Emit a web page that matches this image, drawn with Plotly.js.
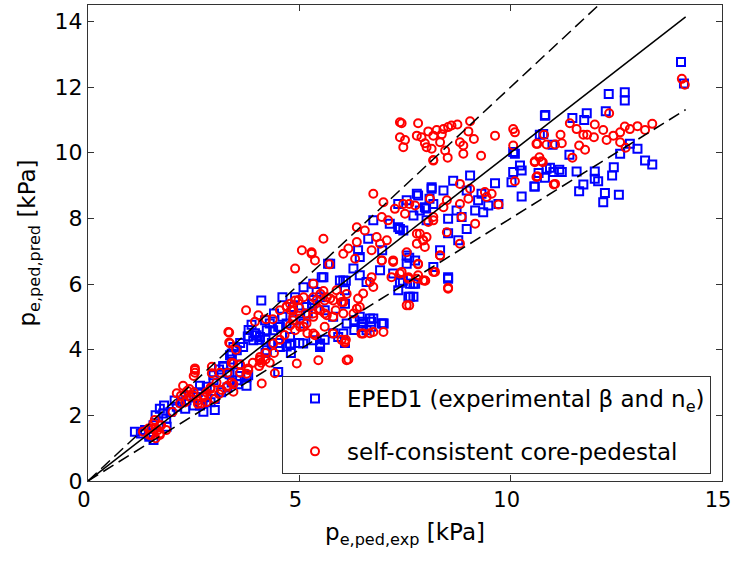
<!DOCTYPE html>
<html>
<head>
<meta charset="utf-8">
<script src="https://cdn.plot.ly/plotly-3.0.1.min.js"></script>
<style>html,body{margin:0;padding:0;background:#fff;}#chart{width:733px;height:561px;}</style>
</head>
<body>
<div id="chart"></div>
<script>
// EPED1 (experimental beta and n_e) – blue squares
const epedX = [1.11,1.25,1.35,1.45,1.55,1.60,1.70,1.80,1.85,1.95,2.05,2.20,2.30,2.50,2.60,2.75,2.90,3.00,3.00,3.15,3.30,3.40,3.35,3.60,3.55,3.79,3.40,3.44,3.60,3.78,3.80,3.87,3.95,4.05,2.97,3.10,3.40,3.55,3.75,3.80,3.99,4.23,4.30,4.50,4.78,4.50,5.00,5.49,4.80,4.50,4.20,4.60,4.85,4.40,5.10,5.09,4.78,5.49,5.92,6.08,6.43,6.30,6.67,6.47,6.70,6.99,6.75,6.95,6.59,6.50,6.04,6.08,6.08,6.59,7.34,7.74,7.62,7.58,7.70,7.45,5.96,5.53,5.33,5.41,5.57,5.73,6.10,5.68,6.28,6.43,6.91,7.22,7.54,7.60,6.96,6.39,6.63,6.43,6.04,6.75,7.14,7.34,7.34,7.78,8.13,8.08,8.00,7.54,7.70,7.97,8.17,7.85,8.01,7.46,7.38,7.54,7.74,7.62,7.70,7.38,8.17,8.52,8.52,8.33,8.76,8.52,8.96,8.52,8.84,8.72,9.16,9.35,9.47,9.71,9.23,9.31,8.96,8.41,8.13,7.81,8.64,9.04,9.63,10.02,10.06,10.26,10.22,10.10,10.57,10.26,10.85,11.01,10.77,10.81,4.90,5.10,5.30,5.60,5.80,5.20,4.60,4.19,4.10,4.35,4.70,2.40,2.65,3.20,14.03,14.10,12.32,12.70,12.70,12.25,10.82,11.46,11.80,11.74,10.69,10.99,11.39,12.82,13.00,12.59,13.18,13.35,10.93,11.15,11.21,11.56,11.99,12.44,12.40,10.66,10.81,10.56,11.72,11.99,12.07,11.62,12.23,12.19,12.56,10.06,
  1.78,2.10,2.33,2.57,2.81,2.97,3.20,3.36,3.52,3.67,3.91,4.07,4.20,4.38,4.54,4.70,4.86,5.02,5.17,5.33,5.50,4.23,4.54,5.33,5.49,5.60,5.80,6.12,6.50,6.70,6.99,6.30,3.30,3.52,3.75,2.65,2.73,1.86,1.55,1.45];
const epedY = [1.50,1.45,1.55,1.35,1.70,2.00,2.20,2.30,1.90,2.10,2.45,2.40,2.20,2.30,2.70,2.55,2.40,2.16,2.50,2.70,2.85,3.00,3.25,3.20,2.95,3.22,3.88,4.08,4.20,4.40,4.60,4.76,4.50,4.30,3.22,3.40,3.70,3.55,3.17,4.40,4.44,4.59,4.80,4.70,4.39,4.20,4.20,4.14,3.90,3.32,3.90,5.00,5.30,5.10,4.80,4.19,4.19,4.19,4.39,4.20,5.00,4.90,4.95,4.69,4.70,4.80,4.95,4.80,4.59,4.80,4.49,5.40,5.81,6.06,5.81,6.01,5.61,5.61,6.01,6.10,6.11,6.21,6.01,5.76,6.21,6.62,6.10,6.62,6.47,6.27,6.42,6.32,6.62,6.80,7.03,7.03,7.38,6.82,6.11,7.94,7.84,7.73,8.44,8.75,8.95,8.60,8.30,8.55,8.09,8.34,8.44,8.24,7.94,7.63,7.68,6.87,6.72,6.01,5.61,6.04,6.52,6.16,6.21,7.03,7.33,7.55,7.68,7.99,8.04,8.24,8.24,8.19,8.39,8.44,8.55,8.75,8.85,8.85,8.90,8.70,9.15,9.31,9.07,9.10,9.41,9.46,9.61,9.97,8.97,8.67,9.51,9.41,10.57,11.13,5.60,5.90,5.40,5.20,5.00,5.10,5.60,4.90,5.50,4.20,4.10,2.60,2.90,3.50,12.76,12.11,11.79,11.84,11.59,11.26,11.15,11.06,11.20,11.00,10.55,10.24,9.94,10.27,10.12,9.97,9.76,9.64,9.54,9.48,9.41,9.43,9.43,9.56,9.31,9.38,9.24,8.97,9.03,9.21,9.13,8.83,8.77,8.49,8.72,10.02,
  2.06,2.26,2.46,2.56,2.87,3.07,3.48,3.83,3.98,4.08,4.29,4.39,4.30,4.59,4.69,4.80,4.90,5.10,5.30,5.51,5.60,3.98,4.08,4.29,4.08,4.30,4.50,4.80,4.85,4.85,4.80,4.60,3.30,3.07,2.90,2.30,2.11,1.65,1.25,1.40];

// self-consistent core-pedestal – red circles
const scX = [1.30,1.43,1.50,1.58,1.60,1.70,1.70,1.73,1.55,1.45,1.65,2.10,2.20,2.25,2.30,2.30,2.40,2.50,2.53,2.53,2.60,2.69,2.73,2.80,2.80,2.90,2.93,2.93,3.00,3.16,3.30,3.30,3.40,3.44,3.60,3.32,3.36,3.34,3.34,3.50,3.79,4.11,4.10,4.06,4.20,3.44,3.40,3.60,3.79,4.05,4.30,4.07,4.40,4.42,4.94,2.53,2.50,3.74,4.03,3.95,4.21,4.37,4.54,4.70,4.80,4.98,5.10,5.41,4.86,5.02,5.10,5.60,5.80,5.86,6.04,6.12,5.37,5.19,5.80,5.45,6.00,6.12,6.16,6.08,6.10,6.47,6.67,6.99,5.80,6.36,6.51,6.67,7.18,7.38,7.81,7.98,8.21,7.81,8.33,6.95,7.22,5.60,5.60,5.57,5.06,5.29,5.37,4.90,5.33,5.57,5.29,5.71,6.04,6.16,6.32,6.36,6.55,6.71,6.36,6.75,6.99,6.95,7.10,7.26,7.46,7.60,6.83,7.07,6.91,7.22,6.95,6.71,6.75,6.39,6.43,6.28,7.58,7.78,7.93,7.93,7.78,8.01,8.17,8.17,5.88,5.73,6.00,5.49,5.33,5.65,5.17,5.33,6.08,6.51,6.75,6.04,4.86,4.70,5.00,4.78,4.90,7.54,7.60,8.52,8.80,9.04,9.39,9.55,9.71,9.43,9.00,8.80,8.49,8.41,8.09,8.84,9.16,8.17,8.05,7.74,7.50,7.85,7.93,7.97,7.78,7.54,8.49,8.80,8.33,7.81,8.17,7.97,8.52,7.58,7.42,7.38,7.42,7.81,7.50,7.46,7.78,7.89,7.97,8.01,8.13,8.05,8.17,8.25,8.37,8.33,8.45,8.41,8.52,8.60,8.74,9.04,9.00,9.13,8.80,8.88,8.88,8.51,8.17,9.30,9.63,10.06,10.10,10.06,10.61,10.57,10.73,10.61,10.10,11.05,7.38,14.05,14.12,12.33,11.40,11.18,10.79,10.63,10.85,11.05,11.21,11.56,11.72,11.81,11.99,11.97,12.19,12.27,12.43,12.59,12.70,12.82,13.00,13.18,13.35,12.59,12.72,11.62,11.76,11.46,10.57,10.68,10.76,10.63,11.02,
  2.18,2.41,2.50,2.60,2.90,3.04,3.12,3.28,3.44,3.75,3.90,4.07,4.20,4.38,4.54,4.65,4.85,5.02,5.15,5.33,5.45,4.78,4.90,5.33,5.50,5.65,5.80,5.97,1.70,1.50,1.60,1.85,2.00,2.35,2.75,3.10];
const scY = [1.50,1.60,1.60,1.86,1.30,1.40,1.70,1.70,1.75,1.40,1.55,2.67,2.60,2.90,2.65,2.40,2.80,2.60,3.38,3.30,2.35,2.36,2.56,2.70,2.40,2.85,3.28,3.48,2.50,2.77,2.90,3.30,3.00,2.72,3.30,4.54,4.19,4.52,4.22,4.00,3.38,2.97,3.60,3.70,3.70,3.58,3.60,3.55,3.43,3.50,3.60,3.78,3.90,3.28,3.58,3.43,3.20,5.20,5.05,4.85,4.93,4.93,5.20,5.32,5.20,5.51,5.60,5.51,5.00,4.69,4.70,5.10,5.00,5.20,5.45,5.70,4.44,4.50,4.49,3.68,4.30,3.68,3.70,4.21,4.30,4.49,4.50,4.54,4.50,5.25,5.71,6.06,6.21,6.32,6.27,6.10,6.37,6.60,6.87,6.72,6.67,5.50,4.70,7.38,7.03,6.92,6.72,6.47,6.01,5.79,6.97,6.60,6.92,7.08,6.77,7.28,7.63,7.03,7.73,8.75,8.49,8.04,7.94,8.29,8.44,8.44,7.43,7.33,7.23,6.72,6.72,6.21,5.91,5.56,5.30,5.10,6.16,6.16,6.11,7.33,7.53,7.43,7.94,9.76,5.81,5.56,5.45,5.20,5.00,5.05,4.80,4.49,4.24,4.49,4.54,5.10,5.20,5.30,5.27,4.74,4.59,5.35,5.35,5.89,9.05,8.90,8.80,8.75,8.42,8.65,8.60,8.44,8.55,8.34,8.60,8.04,7.84,8.04,7.89,8.39,8.14,7.53,7.33,7.13,7.23,6.97,7.58,7.23,6.87,6.62,6.37,6.11,5.86,6.21,6.37,10.93,10.90,10.90,10.39,10.17,10.52,10.47,10.29,10.17,10.12,10.65,10.52,10.69,10.56,10.32,10.07,10.72,10.78,10.83,10.86,10.96,10.65,10.42,10.32,10.22,9.97,9.85,9.78,9.91,10.52,10.72,10.62,10.22,10.27,9.71,9.74,9.26,9.13,9.05,10.47,12.25,12.07,11.20,10.90,10.55,10.55,10.27,10.25,10.25,10.29,10.72,10.55,10.55,10.86,10.47,10.69,10.39,10.52,10.62,10.80,10.72,10.81,10.69,10.88,10.32,10.15,10.22,10.09,9.85,9.74,9.86,9.71,9.28,9.03,
  2.36,2.56,2.70,2.45,2.80,3.00,3.30,2.87,2.95,3.27,3.60,3.68,3.90,4.19,4.30,4.45,4.90,4.95,5.10,5.10,5.25,5.40,5.50,5.60,5.70,5.60,5.50,5.61,1.45,1.40,1.60,1.55,2.10,2.75,2.60,2.65];

// reference lines: y = k * x
const lineX = [0, 14.14];
const lineFactors = [1.0, 1.2, 0.8];
const lineDash = ['solid', '12px,6px', '12px,6px'];

const legendNames = ['EPED1 (experimental β and n<sub>e</sub>)', 'self-consistent core-pedestal'];

const traces = [
  {x: epedX, y: epedY, type: 'scatter', mode: 'markers', name: legendNames[0], legendgroup: 'a',
   marker: {symbol: 'square-open', size: 8, color: '#0000ff', line: {width: 2, color: '#0000ff'}}},
  {x: scX, y: scY, type: 'scatter', mode: 'markers', name: legendNames[1], legendgroup: 'b',
   marker: {symbol: 'circle-open', size: 8, color: '#ff0000', line: {width: 2, color: '#ff0000'}}}
];
lineFactors.forEach((k, i) => {
  traces.push({x: lineX, y: lineX.map(v => v * k), type: 'scatter', mode: 'lines', showlegend: false,
    hoverinfo: 'skip', line: {color: '#000', width: 1.5, dash: lineDash[i]}});
});

const fontFam = 'DejaVu Sans, Liberation Sans, Arial, sans-serif';
const layout = {
  width: 733, height: 561,
  margin: {l: 88, r: 11, t: 5, b: 80},
  paper_bgcolor: '#fff', plot_bgcolor: '#fff',
  font: {family: fontFam, color: '#000', size: 22},
  showlegend: true,
  xaxis: {range: [0, 15], tickvals: [0, 5, 10, 15], ticks: 'inside', ticklen: 6, tickcolor: '#333',
    showline: true, linecolor: '#333', linewidth: 1, mirror: 'ticks', showgrid: false, zeroline: false,
    tickfont: {size: 21, family: fontFam}, ticklabeloverflow: 'allow', ticklabelshift: -4, automargin: false,
    title: {text: 'p<sub>e,ped,exp</sub> [kPa]', font: {size: 23, family: fontFam}, standoff: 12}},
  yaxis: {range: [0, 14.5], tickvals: [0, 2, 4, 6, 8, 10, 12, 14], ticks: 'inside', ticklen: 6, tickcolor: '#333',
    showline: true, linecolor: '#333', linewidth: 1, mirror: 'ticks', showgrid: false, zeroline: false,
    tickfont: {size: 22, family: fontFam}, automargin: false,
    title: {text: 'p<sub>e,ped,pred</sub> [kPa]', font: {size: 23, family: fontFam}, standoff: 12}},
  legend: {x: 0.306, y: 0.2206, xanchor: 'left', yanchor: 'top', bgcolor: '#fff',
    bordercolor: '#333', borderwidth: 1, font: {size: 23, family: fontFam},
    itemwidth: 54, tracegroupgap: 20, traceorder: 'grouped'}
};

Plotly.newPlot('chart', traces, layout, {displayModeBar: false, staticPlot: true});
</script>
</body>
</html>
